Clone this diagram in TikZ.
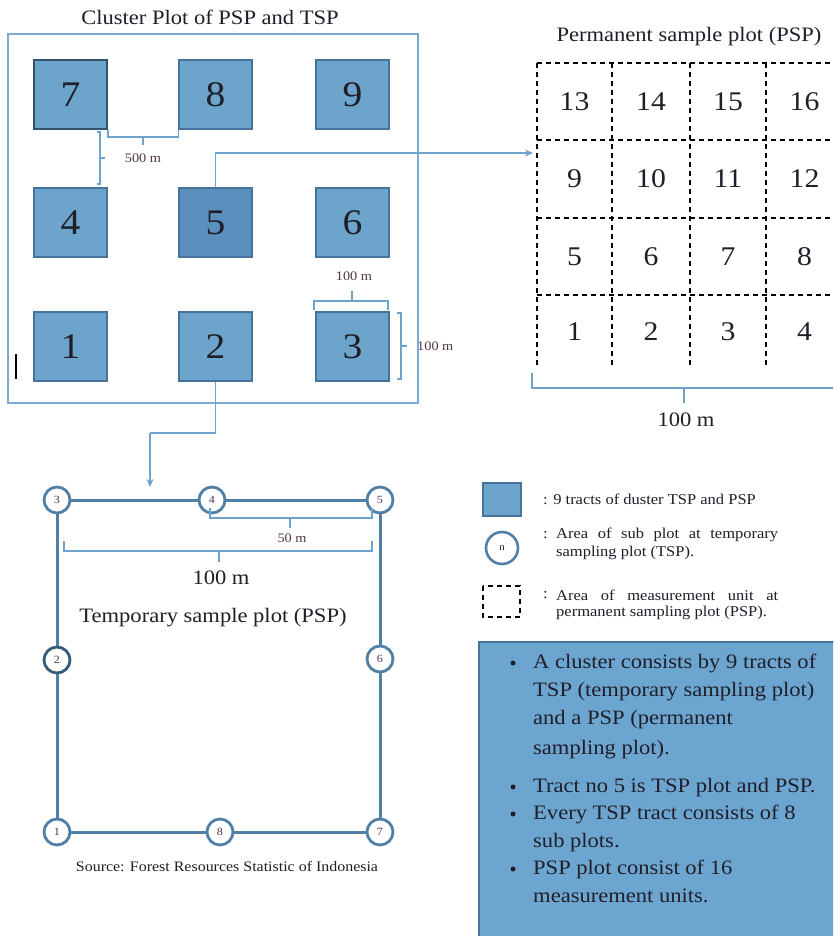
\documentclass[tikz,border=0pt]{standalone}
\usepackage{fontspec}
\setmainfont{Liberation Serif}[FakeStretch=1.1]
\usetikzlibrary{arrows.meta}

\definecolor{tractfill}{RGB}{108,164,204}
\definecolor{tractedge}{RGB}{70,115,155}
\definecolor{tractcore}{RGB}{90,143,190}
\definecolor{tractdeep}{RGB}{50,82,112}
\definecolor{frameblue}{RGB}{125,170,212}
\definecolor{linkblue}{RGB}{110,163,208}
\definecolor{tspline}{RGB}{80,128,165}
\definecolor{tspdeep}{RGB}{55,90,120}
\definecolor{infofill}{RGB}{108,166,208}
\definecolor{inktext}{RGB}{32,30,40}
\definecolor{smallink}{RGB}{80,55,70}

\newcommand\setfs[1]{\fontsize{#1}{#1}\selectfont}

\tikzset{
  tract/.style={draw=tractedge, line width=1.6pt, fill=tractfill,
    minimum width=73pt, minimum height=69pt, inner sep=0pt,
    font=\setfs{36}, text=inktext},
  pspline/.style={dash pattern=on 5pt off 4pt, line width=1.1pt, black},
  pspcell/.style={font=\setfs{27}, text=inktext, inner sep=0pt},
  link/.style={draw=linkblue, line width=1.5pt},
  linkarrow/.style={link, -{Stealth[length=8pt,width=7pt]}},
  brace/.style={draw=linkblue, line width=1.3pt},
  smalllbl/.style={font=\setfs{13}, text=smallink, inner sep=0pt},
  heading/.style={font=\setfs{20.5}, text=inktext, inner sep=0pt},
  subplot/.style={circle, draw=tspline, line width=2.8pt, fill=white,
    minimum size=26pt, inner sep=0pt, font=\setfs{11}, text=smallink},
  tspedge/.style={draw=tspline, line width=3pt},
  legtext/.style={font=\setfs{15}, text=inktext, inner sep=0pt, anchor=west},
  infoline/.style={font=\setfs{20.5}, text=inktext, inner sep=0pt, anchor=west,
    text height=14pt, text depth=4pt},
  infobullet/.style={circle, fill=inktext, minimum size=5pt, inner sep=0pt}
}

\begin{document}
\begin{tikzpicture}[x=1pt,y=-1pt]
\useasboundingbox (0,0) rectangle (833,936);
\clip (0,0) rectangle (833,936);
\fill[white] (0,0) rectangle (833,936);

% ---------- cluster of nine tracts ----------
\node[heading] (clustertitle) at (210,17) {Cluster Plot of PSP and TSP};
\draw[frameblue, line width=1.3pt] (8,34) rectangle (418,403);

\node[tract, draw=tractdeep, line width=2pt] (t7) at (70.5,94.5) {7};
\node[tract] (t8) at (215.5,94.5) {8};
\node[tract] (t9) at (352.5,94.5) {9};
\node[tract] (t4) at (70.5,222.5) {4};
\node[tract, fill=tractcore] (t5) at (215.5,222.5) {5};
\node[tract] (t6) at (352.5,222.5) {6};
\node[tract] (t1) at (70.5,346.5) {1};
\node[tract] (t2) at (215.5,346.5) {2};
\node[tract] (t3) at (352.5,346.5) {3};

% spacing between tracts
\draw[brace] (t7.south east) -- ++(0,7) -| (t8.south west);
\draw[brace] (143,136) -- (143,145);
\node[smalllbl] (lbl500) at (143,158) {500 m};
\draw[brace] (97,132) -- (100,132) -- (100,184) -- (97,184);
\draw[brace] (100,158) -- (105,158);

% size of one tract
\draw[brace] (314,310) -- (314,301) -- (388,301) -- (388,310);
\draw[brace] (352,301) -- (352,291);
\node[smalllbl] (lbltop) at (354,276) {100 m};
\draw[brace] (397,313) -- (401,313) -- (401,379) -- (397,379);
\draw[brace] (401,346) -- (407,346);
\node[smalllbl, anchor=west] (lblside) at (417,346) {100 m};

\draw[black, line width=1.2pt] (16,354) -- (16,379);

% ---------- permanent sample plot ----------
\node[heading] (psptitle) at (689,37) {Permanent sample plot (PSP)};
\foreach \yy in {63,140,218,295}
  \draw[pspline] (537,\yy) -- (845,\yy);
\foreach \xx in {537,612,690,766,843}
  \draw[pspline] (\xx,63) -- (\xx,368);

\foreach \n/\cx/\cy in {13/574.5/101.5, 14/651/101.5, 15/728/101.5, 16/804.5/101.5,
                        9/574.5/179, 10/651/179, 11/728/179, 12/804.5/179,
                        5/574.5/256.5, 6/651/256.5, 7/728/256.5, 8/804.5/256.5,
                        1/574.5/332, 2/651/332, 3/728/332, 4/804.5/332}
  \node[pspcell] (psp\n) at (\cx,\cy) {\n};

\draw[brace] (532,373) -- (532,388) -- (845,388);
\draw[brace] (684,388) -- (684,403);
\node[heading] (lblpsp) at (686,420) {100 m};

% ---------- links from tracts to plot layouts ----------
\coordinate (pspentry) at (533,153);
\draw[linkarrow] (t5.north) |- (pspentry);
\coordinate (bend2) at (150,433);
\coordinate (tspentry) at (150,487);
\draw[link] (t2.south) |- (bend2);
\draw[linkarrow] (bend2) -- (tspentry);

% ---------- temporary sample plot ----------
\node[subplot] (s3) at (57,500) {3};
\node[subplot] (s4) at (212,500) {4};
\node[subplot] (s5) at (380,500) {5};
\node[subplot, draw=tspdeep] (s2) at (57,660) {2};
\node[subplot] (s6) at (380,659) {6};
\node[subplot] (s1) at (57,832) {1};
\node[subplot] (s8) at (220,832) {8};
\node[subplot] (s7) at (380,832) {7};
\draw[tspedge] (s3) -- (s4);
\draw[tspedge] (s4) -- (s5);
\draw[tspedge] (s5) -- (s6);
\draw[tspedge] (s6) -- (s7);
\draw[tspedge] (s7) -- (s8);
\draw[tspedge] (s8) -- (s1);
\draw[tspedge] (s1) -- (s2);
\draw[tspedge] (s2) -- (s3);

\draw[brace] (210,508) -- (210,518) -- (372,518) -- (372,508);
\draw[brace] (290,518) -- (290,528);
\node[smalllbl] (lbl50) at (292,538) {50 m};
\draw[brace] (64,541) -- (64,551) -- (372,551) -- (372,541);
\draw[brace] (219,551) -- (219,562);
\node[heading] (lbltsp) at (221,578) {100 m};
\node[heading] (tsptitle) at (213,618) {Temporary sample plot (PSP)};
\node[font=\setfs{14.5}, text=inktext, inner sep=0pt] (source) at (227,866)
  {Source: Forest Resources Statistic of Indonesia};

% ---------- legend ----------
\node[draw=tractedge, line width=2.2pt, fill=tractfill, minimum width=38pt,
      minimum height=33pt, inner sep=0pt] (legtract) at (502,499.5) {};
\node[legtext] (legtracttxt) at (543,499) {: 9 tracts of duster TSP and PSP};

\node[circle, draw=tspline, line width=2.6pt, minimum size=32pt, inner sep=0pt,
      font=\setfs{10}, text=inktext] (legsub) at (502,548) {n};
\node[legtext] (legsubcolon) at (543,535) {:};
\node[legtext] (legsubtxt) at (556,535) {\makebox[222pt][s]{Area of sub plot at temporary}};
\node[legtext] (legsubtxt2) at (556,553) {sampling plot (TSP).};

\draw[dashed, line width=1.1pt, dash pattern=on 5pt off 4pt] (483,586) rectangle (520,617);
\coordinate (legunit) at (501.5,601.5);
\node[legtext] (legunitcolon) at (543,595) {:};
\node[legtext] (legunittxt) at (556,595) {\makebox[222pt][s]{Area of measurement unit at}};
\node[legtext] (legunittxt2) at (556,613) {permanent sampling plot (PSP).};

% ---------- summary box ----------
\draw[fill=infofill, draw=tractedge, line width=1.3pt] (479,642) rectangle (845,945);
\foreach \yy in {663,787,814,869}
  \node[infobullet] at (513,\yy) {};
\node[infoline] (info1) at (533,663) {A cluster consists by 9 tracts of};
\node[infoline] (info2) at (533,691) {TSP (temporary sampling plot)};
\node[infoline] (info3) at (533,719) {and a PSP (permanent};
\node[infoline] (info4) at (533,749) {sampling plot).};
\node[infoline] (info5) at (533,787) {Tract no 5 is TSP plot and PSP.};
\node[infoline] (info6) at (533,814) {Every TSP tract consists of 8};
\node[infoline] (info7) at (533,842) {sub plots.};
\node[infoline] (info8) at (533,869) {PSP plot consist of 16};
\node[infoline] (info9) at (533,897) {measurement units.};
\end{tikzpicture}
\end{document}
